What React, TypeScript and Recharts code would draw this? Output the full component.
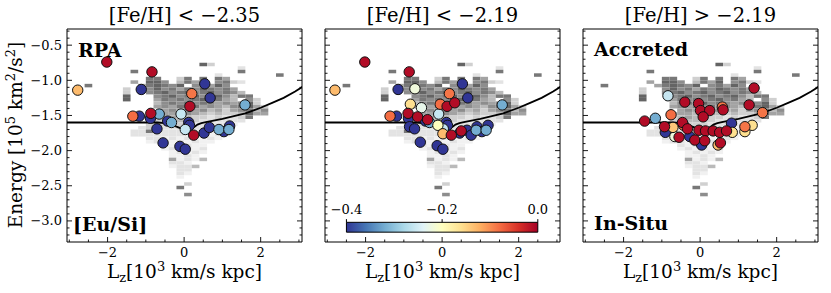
import React from 'react';
import { ComposedChart, XAxis, YAxis, Scatter, ReferenceArea, ReferenceLine } from 'recharts';

const FONT = '"DejaVu Serif", serif';

// ---------- axes ----------
const X_DOMAIN: [number, number] = [-3.06, 3.08];
const Y_DOMAIN: [number, number] = [-3.3, -0.27];
const xMajorTicks = [-2, 0, 2];
const xMinorTicks = [-3, -2.5, -1.5, -1, -0.5, 0.5, 1, 1.5, 2.5, 3];
const yMajorTicks = [-3, -2.5, -2, -1.5, -1, -0.5];
const yMinorTicks = [-3.2, -3.1, -2.9, -2.8, -2.7, -2.6, -2.4, -2.3, -2.2, -2.1, -1.9, -1.8, -1.7, -1.6, -1.4, -1.3, -1.2, -1.1, -0.9, -0.8, -0.7, -0.6, -0.4, -0.3];

const panelTitles = ['[Fe/H] < \u22122.35', '[Fe/H] < \u22122.19', '[Fe/H] > \u22122.19'];

// ---------- separating curve ----------
const curveX = [-3.1, -2.0, -1.0, -0.7, -0.5, -0.35, -0.2, -0.05, 0.1, 0.25, 0.35, 0.45, 0.6, 0.8, 1.0, 1.3, 1.6, 2.0, 2.3, 2.6, 2.9, 3.1];
const curveY = [-1.6, -1.6, -1.6, -1.6, -1.61, -1.63, -1.66, -1.69, -1.69, -1.67, -1.63, -1.61, -1.59, -1.57, -1.55, -1.51, -1.47, -1.39, -1.32, -1.25, -1.16, -1.09];

// ---------- background 2D histogram (top edge of row, first column, levels) ----------
const HIST_X0 = -3.0;
const HIST_DX = 0.2;
const HIST_DY = 0.05;
const histRows: [number, number, string][] = [
  [-0.75, 17, '83'],
  [-0.8, 22, '2'],
  [-0.85, 8, '7'],
  [-0.85, 22, '7'],
  [-0.9, 27, '7'],
  [-0.9, 19, '2'],
  [-0.95, 10, '77..37.7.75'],
  [-1.0, 8, '5.886.4758.6732'],
  [-1.05, 2, '7'],
  [-1.05, 9, '578768.67586'],
  [-1.1, 7, '3..686757687675'],
  [-1.15, 7, '3..6786786786764'],
  [-1.2, 7, '8...6786786786477'],
  [-1.25, 7, '8...57676786754.63'],
  [-1.3, 11, '46768676565683'],
  [-1.35, 11, '565767565467853'],
  [-1.4, 12, '56565645356746'],
  [-1.45, 11, '455465434334855'],
  [-1.5, 11, '3454433232237'],
  [-1.55, 11, '334433222222'],
  [-1.6, 10, '333333222221'],
  [-1.65, 9, '233223222212'],
  [-1.7, 8, '2273222221221'],
  [-1.75, 8, '2222222121121'],
  [-1.8, 10, '2212121121'],
  [-1.85, 10, '122121211'],
  [-1.9, 12, '212211'],
  [-1.95, 12, '121212'],
  [-2.0, 13, '12121'],
  [-2.05, 13, '1121'],
  [-2.1, 13, '51214'],
  [-2.15, 13, '221'],
  [-2.2, 13, '1224'],
  [-2.25, 14, '22'],
  [-2.3, 14, '21'],
  [-2.35, 14, '1'],
  [-2.45, 15, '3'],
  [-2.5, 14, '7'],
  [-2.6, 15, '6'],
];
const GREYS = ['#ffffff', '#f1f1f1', '#e3e3e3', '#d0d0d0', '#bababa', '#a3a3a3', '#8d8d8d', '#787878', '#646464', '#505050'];

// ---------- stars: Lz, Energy, [Eu/Si] ----------
const p1X = [-1.12, 0.54, 0.68, -1.17, -0.88, -0.71, -0.43, 0.12, 0.14, 0.52, 0.66, 1.04, 1.19, -0.55, -0.11, 0.03, 1.59, -0.65, -0.33, 0.91, 1.17, -0.08, 0.03, -2.78, 0.2, -1.34, -2.02, -0.84, 0.15, -0.87, 0.25];
const p1Y = [-1.13, -1.05, -1.25, -1.51, -1.54, -1.69, -1.58, -1.6, -1.64, -1.75, -1.67, -1.73, -1.65, -1.89, -1.94, -1.98, -1.35, -1.48, -1.6, -1.7, -1.7, -1.48, -1.7, -1.14, -1.19, -1.51, -0.74, -0.88, -1.37, -1.47, -1.78];
const p1C = [-0.4, -0.4, -0.4, -0.4, -0.4, -0.4, -0.4, -0.4, -0.4, -0.4, -0.4, -0.4, -0.4, -0.4, -0.4, -0.4, -0.32, -0.32, -0.32, -0.32, -0.32, -0.26, -0.26, -0.13, -0.085, -0.08, -0.01, -0.01, -0.01, -0.01, -0.01];

const p2X = [-1.15, 0.53, 0.67, -1.19, -0.88, -0.85, -0.72, -0.43, 0.11, 0.14, 0.46, 0.65, 0.76, 0.91, 1.04, 1.2, -0.57, -0.13, 0.02, 1.57, -0.33, 0.89, 1.15, -0.09, 0.03, -0.54, -0.71, -0.11, -0.83, -2.8, 0.02, 0.19, -0.05, -1.36, -2.02, -0.86, 0.13, 0.33, -0.89, -0.64, -0.38, 0.24, 0.5];
const p2Y = [-1.13, -1.05, -1.25, -1.51, -1.54, -1.66, -1.69, -1.58, -1.6, -1.64, -1.75, -1.71, -1.78, -1.66, -1.73, -1.64, -1.88, -1.93, -1.98, -1.35, -1.6, -1.71, -1.71, -1.48, -1.69, -1.39, -1.12, -1.64, -1.34, -1.14, -1.76, -1.19, -1.34, -1.51, -0.74, -0.88, -1.37, -1.32, -1.47, -1.52, -1.56, -1.78, -1.72];
const p2C = [-0.4, -0.4, -0.4, -0.4, -0.4, -0.4, -0.4, -0.4, -0.4, -0.4, -0.4, -0.4, -0.4, -0.4, -0.4, -0.4, -0.4, -0.4, -0.4, -0.32, -0.32, -0.32, -0.32, -0.26, -0.26, -0.23, -0.22, -0.2, -0.16, -0.13, -0.13, -0.085, -0.08, -0.08, -0.01, -0.01, -0.01, -0.01, -0.01, -0.01, -0.01, -0.01, -0.01];

const p3X = [-0.91, -0.27, 0.04, 0.82, -1.17, -0.84, -0.66, 0.84, 1.36, 1.17, -0.71, 0.47, 0.58, 1.63, 1.17, -0.43, -0.76, 1.41, -0.4, -0.04, 0.01, 0.25, 0.6, 0.08, 1.28, -1.45, -0.93, -0.55, -0.46, -0.33, -0.14, -0.03, 0.14, 0.12, 0.34, 0.51, 0.69, 0.53];
const p3Y = [-1.74, -1.8, -1.92, -1.61, -1.54, -1.22, -1.8, -1.74, -1.64, -1.73, -1.67, -1.92, -1.38, -1.46, -1.66, -1.64, -1.49, -1.11, -1.31, -1.33, -1.43, -1.43, -1.42, -1.52, -1.35, -1.58, -1.66, -1.81, -1.6, -1.69, -1.85, -1.71, -1.72, -1.86, -1.72, -1.74, -1.72, -1.89];
const p3C = [-0.4, -0.4, -0.4, -0.4, -0.32, -0.26, -0.22, -0.16, -0.16, -0.16, -0.14, -0.13, -0.085, -0.085, -0.085, -0.085, -0.08, -0.01, -0.01, -0.01, -0.01, -0.01, -0.01, -0.01, -0.01, -0.01, -0.01, -0.01, -0.01, -0.01, -0.01, -0.01, -0.01, -0.01, -0.01, -0.01, -0.01, -0.01];

// ---------- colour bar ----------
const CBAR_MIN = -0.4;
const CBAR_MAX = 0.0;
const cbarTicks = [-0.4, -0.2, 0.0];
const cbarTickLabels = ['\u22120.4', '\u22120.2', '0.0'];
const CBAR_X: [number, number] = [-2.5, 2.5];
const CBAR_Y: [number, number] = [-3.16, -3.02];
const RDYLBU_R = ['#313695', '#4575b4', '#74add1', '#abd9e9', '#e0f3f8', '#ffffbf', '#fee090', '#fdae61', '#f46d43', '#d73027', '#a50026'];

function hexToRgb(h: string) {
  return [parseInt(h.slice(1, 3), 16), parseInt(h.slice(3, 5), 16), parseInt(h.slice(5, 7), 16)];
}
function cmap(v: number) {
  const t = Math.min(1, Math.max(0, (v - CBAR_MIN) / (CBAR_MAX - CBAR_MIN)));
  const p = t * (RDYLBU_R.length - 1);
  const i = Math.min(RDYLBU_R.length - 2, Math.floor(p));
  const f = p - i;
  const a = hexToRgb(RDYLBU_R[i]);
  const b = hexToRgb(RDYLBU_R[i + 1]);
  const c = a.map((av, k) => Math.round(av + (b[k] - av) * f));
  return `rgb(${c[0]},${c[1]},${c[2]})`;
}

const toPoints = (xs: number[], ys: number[], cs: number[]) => xs.map((x, i) => ({ x, y: ys[i], c: cs[i] }));
const panelPoints = [toPoints(p1X, p1Y, p1C), toPoints(p2X, p2Y, p2C), toPoints(p3X, p3Y, p3C)];
const curveData = curveX.map((x, i) => ({ x, y: curveY[i] }));

const histCells: { x1: number; x2: number; y1: number; y2: number; level: number }[] = [];
histRows.forEach(([top, col, levels]) => {
  for (let i = 0; i < levels.length; i++) {
    const ch = levels[i];
    if (ch === '.') continue;
    const x1 = HIST_X0 + (col + i) * HIST_DX;
    histCells.push({ x1, x2: x1 + HIST_DX, y1: top - HIST_DY, y2: top, level: Number(ch) });
  }
});

const isMajor = (v: number, step: number) => Math.abs(v / step - Math.round(v / step)) < 1e-6;
const fmt = (v: number, d: number) => (v < 0 ? '\u2212' : '') + Math.abs(v).toFixed(d);

// ---------- tick renderers (ticks point inward) ----------
const BottomTick = (props: any) => {
  const { x, y, payload } = props;
  const major = isMajor(payload.value, 2);
  return (
    <g>
      <line x1={x} x2={x} y1={y} y2={y - (major ? 5 : 2.5)} stroke="#000" strokeWidth={0.9} />
      {major && (
        <text x={x} y={y + 15} textAnchor="middle" fontSize={13} fontFamily={FONT} fill="#000">
          {fmt(payload.value, 0)}
        </text>
      )}
    </g>
  );
};
const TopTick = (props: any) => {
  const { x, y, payload } = props;
  const major = isMajor(payload.value, 2);
  return <line x1={x} x2={x} y1={y} y2={y + (major ? 5 : 2.5)} stroke="#000" strokeWidth={0.9} />;
};
const makeLeftTick = (showLabel: boolean) => (props: any) => {
  const { x, y, payload } = props;
  const major = isMajor(payload.value, 0.5);
  return (
    <g>
      <line x1={x} x2={x + (major ? 5 : 2.5)} y1={y} y2={y} stroke="#000" strokeWidth={0.9} />
      {major && showLabel && (
        <text x={x - 5} y={y + 4.5} textAnchor="end" fontSize={13} fontFamily={FONT} fill="#000">
          {fmt(payload.value, 1)}
        </text>
      )}
    </g>
  );
};
const RightTick = (props: any) => {
  const { x, y, payload } = props;
  const major = isMajor(payload.value, 0.5);
  return <line x1={x} x2={x - (major ? 5 : 2.5)} y1={y} y2={y} stroke="#000" strokeWidth={0.9} />;
};

const Star = (props: any) => {
  const { cx, cy, payload } = props;
  if (cx == null || cy == null) return <g />;
  return <circle cx={cx} cy={cy} r={5.2} fill={cmap(payload.c)} stroke="#111" strokeWidth={1} />;
};
const NoShape = () => <g />;

const AXIS_LINE = { stroke: '#000', strokeWidth: 1 };
const X_TICKS = [...xMajorTicks, ...xMinorTicks].sort((a, b) => a - b);
const Y_TICKS = [...yMajorTicks, ...yMinorTicks].sort((a, b) => a - b);

const PANEL_LEFTS = [67, 325, 583];
const PLOT_W = 235;

function Panel({ index }: { index: number }) {
  const left = PANEL_LEFTS[index];
  const LeftTick = makeLeftTick(index === 0);
  return (
    <div style={{ position: 'absolute', left: left - 40, top: 0 }}>
      <ComposedChart width={40 + PLOT_W + 12} height={293} margin={{ top: 28, right: 11, bottom: 50, left: 39 }}>
        <defs>
          <linearGradient id={`cbar${index}`} x1="0" y1="0" x2="1" y2="0">
            {RDYLBU_R.map((c, i) => (
              <stop key={i} offset={`${(i / (RDYLBU_R.length - 1)) * 100}%`} stopColor={c} />
            ))}
          </linearGradient>
        </defs>
        <XAxis type="number" dataKey="x" domain={X_DOMAIN} allowDataOverflow ticks={X_TICKS} interval={0} height={1}
          tickSize={0} tickMargin={0} tickLine={false} axisLine={AXIS_LINE} tick={(p: any) => <BottomTick {...p} />} />
        <XAxis xAxisId="top" orientation="top" type="number" domain={X_DOMAIN} allowDataOverflow ticks={X_TICKS} interval={0} height={1}
          tickSize={0} tickMargin={0} tickLine={false} axisLine={AXIS_LINE} tick={(p: any) => <TopTick {...p} />} />
        <YAxis type="number" dataKey="y" domain={Y_DOMAIN} allowDataOverflow ticks={Y_TICKS} interval={0} width={1}
          tickSize={0} tickMargin={0} tickLine={false} axisLine={AXIS_LINE} tick={(p: any) => <LeftTick {...p} />} />
        <YAxis yAxisId="right" orientation="right" type="number" domain={Y_DOMAIN} allowDataOverflow ticks={Y_TICKS} interval={0} width={1}
          tickSize={0} tickMargin={0} tickLine={false} axisLine={AXIS_LINE} tick={(p: any) => <RightTick {...p} />} />

        {histCells.map((c, i) => (
          <ReferenceArea key={`h${i}`} x1={c.x1} x2={c.x2} y1={c.y1} y2={c.y2} fill={GREYS[c.level]} fillOpacity={1}
            stroke="none" ifOverflow="visible" />
        ))}

        <Scatter data={curveData} dataKey="y" line={{ stroke: '#000', strokeWidth: 1.8 }} lineType="joint" shape={NoShape}
          isAnimationActive={false} />
        <Scatter data={panelPoints[index]} dataKey="y" shape={Star} isAnimationActive={false} />

        {index === 1 && (
          <ReferenceArea x1={CBAR_X[0]} x2={CBAR_X[1]} y1={CBAR_Y[0]} y2={CBAR_Y[1]} fill={`url(#cbar${index})`} fillOpacity={1}
            stroke="#000" strokeWidth={1} ifOverflow="visible" />
        )}
        {index === 1 &&
          cbarTicks.map((v, i) => {
            const xv = CBAR_X[0] + ((v - CBAR_MIN) / (CBAR_MAX - CBAR_MIN)) * (CBAR_X[1] - CBAR_X[0]);
            return (
              <ReferenceLine key={`cb${i}`} segment={[{ x: xv, y: CBAR_Y[1] }, { x: xv, y: CBAR_Y[1] + 0.045 }]} stroke="#000"
                strokeWidth={1} ifOverflow="visible"
                label={{ value: cbarTickLabels[i], position: 'top', fontSize: 13, fill: '#000', fontFamily: FONT }} />
            );
          })}
      </ComposedChart>
    </div>
  );
}

export default function App() {
  const centers = PANEL_LEFTS.map((l) => l + PLOT_W / 2);
  return (
    <div style={{ position: 'absolute', left: 0, top: 0, width: 831, height: 293, background: '#fff', fontFamily: FONT }}>
      {[0, 1, 2].map((i) => (
        <Panel key={i} index={i} />
      ))}
      <svg width={831} height={293} style={{ position: 'absolute', left: 0, top: 0, pointerEvents: 'none' }}>
        {panelTitles.map((t, i) => (
          <text key={`t${i}`} x={centers[i]} y={22} textAnchor="middle" fontSize={19.5} fontFamily={FONT} fill="#000">
            {t}
          </text>
        ))}
        {centers.map((cx, i) => (
          <text key={`xl${i}`} x={cx} y={278} textAnchor="middle" fontSize={18.5} fontFamily={FONT} fill="#000">
            L<tspan fontSize={13} dy={4}>z</tspan>
            <tspan dy={-4}>[10</tspan>
            <tspan fontSize={13} dy={-7}>3</tspan>
            <tspan dy={7}> km/s kpc]</tspan>
          </text>
        ))}
        <text transform="translate(22,135) rotate(-90)" textAnchor="middle" fontSize={18.5} fontFamily={FONT} fill="#000">
          Energy [10<tspan fontSize={13} dy={-7}>5</tspan>
          <tspan dy={7}> km</tspan>
          <tspan fontSize={13} dy={-7}>2</tspan>
          <tspan dy={7}>/s</tspan>
          <tspan fontSize={13} dy={-7}>2</tspan>
          <tspan dy={7}>]</tspan>
        </text>
        <text x={78} y={57} fontSize={19} fontWeight="bold" fontFamily={FONT} fill="#000">RPA</text>
        <text x={73} y={231} fontSize={19} fontWeight="bold" fontFamily={FONT} fill="#000">[Eu/Si]</text>
        <text x={594} y={56} fontSize={19} fontWeight="bold" fontFamily={FONT} fill="#000">Accreted</text>
        <text x={594} y={230} fontSize={19} fontWeight="bold" fontFamily={FONT} fill="#000">In-Situ</text>
      </svg>
    </div>
  );
}
